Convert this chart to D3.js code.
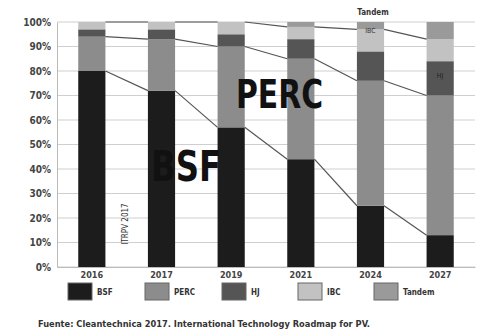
<!DOCTYPE html>
<html>
<head>
<meta charset="utf-8">
<script src="https://cdn.jsdelivr.net/npm/d3@7"></script>
<style>
  body { margin: 0; background: #fff; }
  text { font-family: "DejaVu Sans Condensed", "Liberation Sans", Arial, sans-serif; }
</style>
</head>
<body>
<div id="chart"></div>
<script>
// stacked share of cell technologies, ITRPV 2017

const years = ["2016", "2017", "2019", "2021", "2024", "2027"];
const techs = ["BSF", "PERC", "HJ", "IBC", "Tandem"];
const bsf    = [80, 72, 57, 44, 25, 13];
const perc   = [14, 21, 33, 41, 51, 57];
const hj     = [3, 4, 5, 8, 12, 14];
const ibc    = [3, 3, 5, 5, 9, 9];
const tandem = [0, 0, 0, 2, 3, 7];
const yTicks = [0, 10, 20, 30, 40, 50, 60, 70, 80, 90, 100];
const colors = ["#1c1c1c", "#8c8c8c", "#555555", "#c2c2c2", "#9a9a9a"];

const width = 481, height = 335;
const margin = {top: 22, right: 6, bottom: 68, left: 57};

const svg = d3.select("#chart")
  .append("svg")
  .attr("width", width)
  .attr("height", height);

const x = d3.scaleBand()
  .domain(years)
  .range([margin.left, width - margin.right])
  .paddingInner(0.61)
  .paddingOuter(0.305);

const y = d3.scaleLinear()
  .domain([0, 100])
  .range([height - margin.bottom, margin.top]);

// table for the stack
const rows = years.map((yr, i) => ({
  year: yr, BSF: bsf[i], PERC: perc[i], HJ: hj[i], IBC: ibc[i], Tandem: tandem[i]
}));
const series = d3.stack().keys(techs)(rows);

// gridlines
svg.append("g")
  .selectAll("line")
  .data(yTicks)
  .join("line")
  .attr("x1", margin.left)
  .attr("x2", width - margin.right)
  .attr("y1", d => y(d))
  .attr("y2", d => y(d))
  .attr("stroke", "#cfcfcf")
  .attr("stroke-width", 1);

// y axis
const yAxis = svg.append("g")
  .attr("transform", `translate(${margin.left},0)`)
  .call(d3.axisLeft(y).tickValues(yTicks).tickFormat(d => d + "%").tickSize(0).tickPadding(6));
yAxis.select(".domain").attr("stroke", "#bbb");
yAxis.selectAll("text")
  .attr("font-size", 10)
  .attr("font-weight", "bold")
  .attr("fill", "#444")
  .style("font-family", "'DejaVu Sans Condensed', sans-serif");

// x axis
const xAxis = svg.append("g")
  .attr("transform", `translate(0,${y(0)})`)
  .call(d3.axisBottom(x).tickSize(0).tickPadding(5));
xAxis.select(".domain").attr("stroke", "#bbb");
xAxis.selectAll("text")
  .attr("font-size", 9)
  .attr("font-weight", "bold")
  .attr("fill", "#444")
  .style("font-family", "'DejaVu Sans Condensed', sans-serif");

// bars
svg.append("g")
  .selectAll("g")
  .data(series)
  .join("g")
  .attr("fill", (d, i) => colors[i])
  .selectAll("rect")
  .data(d => d)
  .join("rect")
  .attr("x", d => x(d.data.year))
  .attr("y", d => y(d[1]))
  .attr("width", x.bandwidth())
  .attr("height", d => y(d[0]) - y(d[1]));

// series lines between bars (top of BSF, PERC, IBC)
[0, 1, 3].forEach(k => {
  const s = series[k];
  const segs = [];
  for (let i = 0; i < years.length - 1; i++) {
    segs.push({
      x1: x(years[i]) + x.bandwidth(), y1: y(s[i][1]),
      x2: x(years[i + 1]), y2: y(s[i + 1][1])
    });
  }
  svg.append("g")
    .selectAll("line")
    .data(segs)
    .join("line")
    .attr("x1", d => d.x1).attr("y1", d => d.y1)
    .attr("x2", d => d.x2).attr("y2", d => d.y2)
    .attr("stroke", "#555")
    .attr("stroke-width", 1.2);
});

// big annotations
svg.append("text")
  .attr("x", 151)
  .attr("y", 181)
  .attr("font-size", 42)
  .attr("font-weight", "bold")
  .attr("textLength", 70)
  .attr("lengthAdjust", "spacingAndGlyphs")
  .attr("fill", "#111")
  .text("BSF");

svg.append("text")
  .attr("x", 236)
  .attr("y", 108)
  .attr("font-size", 39)
  .attr("font-weight", "bold")
  .attr("textLength", 87)
  .attr("lengthAdjust", "spacingAndGlyphs")
  .attr("fill", "#111")
  .text("PERC");

// small labels inside bars
svg.append("text")
  .attr("x", x("2024") + x.bandwidth() / 2)
  .attr("y", y(95.5))
  .attr("text-anchor", "middle")
  .attr("font-size", 7)
  .attr("fill", "#333")
  .text("IBC");

svg.append("text")
  .attr("x", x("2027") + x.bandwidth() / 2)
  .attr("y", y(77))
  .attr("text-anchor", "middle")
  .attr("font-size", 7)
  .attr("fill", "#222")
  .text("HJ");

svg.append("text")
  .attr("x", 373)
  .attr("y", 15)
  .attr("text-anchor", "middle")
  .attr("font-size", 8)
  .attr("font-weight", "bold")
  .attr("fill", "#333")
  .text("Tandem");

svg.append("text")
  .attr("transform", "translate(128,224) rotate(-90)")
  .attr("text-anchor", "middle")
  .attr("font-size", 8)
  .attr("fill", "#333")
  .text("ITRPV 2017");

// legend
const legendX = [68, 145, 222, 298, 374];
const legend = svg.append("g")
  .selectAll("g")
  .data(techs)
  .join("g")
  .attr("transform", (d, i) => `translate(${legendX[i]},283)`);
legend.append("rect")
  .attr("width", 24)
  .attr("height", 17)
  .attr("fill", (d, i) => colors[i])
  .attr("stroke", "#666")
  .attr("stroke-width", 1);
legend.append("text")
  .attr("x", 29)
  .attr("y", 12)
  .attr("font-size", 8)
  .attr("font-weight", "bold")
  .attr("fill", "#333")
  .text(d => d);

// source
svg.append("text")
  .attr("x", 38)
  .attr("y", 327)
  .attr("font-size", 8.5)
  .attr("font-weight", "bold")
  .attr("textLength", 332)
  .attr("lengthAdjust", "spacingAndGlyphs")
  .attr("fill", "#333")
  .text("Fuente: Cleantechnica 2017. International Technology Roadmap for PV.");
</script>
</body>
</html>
